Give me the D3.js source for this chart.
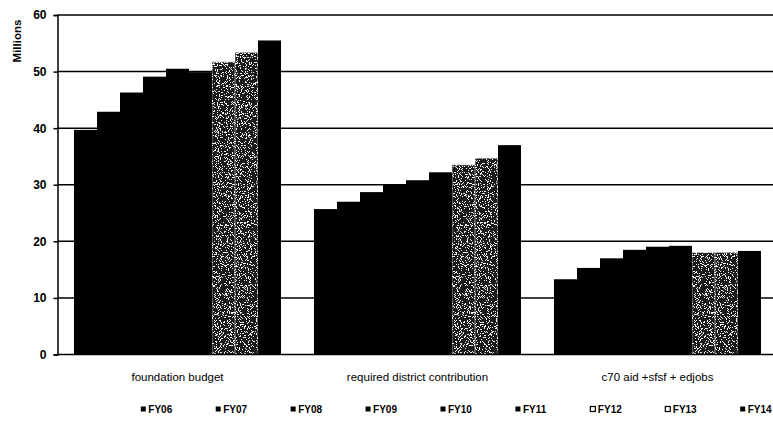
<!DOCTYPE html>
<html>
<head>
<meta charset="utf-8">
<script src="https://cdn.jsdelivr.net/npm/d3@7/dist/d3.min.js"></script>
<style>
  html, body { margin: 0; padding: 0; background: #fff; }
  svg { display: block; font-family: "Liberation Sans", Arial, sans-serif; }
</style>
</head>
<body>
<svg id="chart" width="773" height="421"></svg>
<script>
// Budget components by fiscal year (millions of dollars)
const categories = ["foundation budget", "required district contribution", "c70 aid +sfsf + edjobs"];
const series = ["FY06", "FY07", "FY08", "FY09", "FY10", "FY11", "FY12", "FY13", "FY14"];
const foundationBudget = [39.7, 42.9, 46.3, 49.1, 50.5, 49.9, 51.7, 53.4, 55.5];
const requiredContribution = [25.7, 27.0, 28.7, 30.0, 30.8, 32.2, 33.5, 34.7, 37.0];
const stateAid = [13.3, 15.3, 17.0, 18.5, 19.05, 19.2, 18.0, 18.05, 18.3];
const yTicks = [0, 10, 20, 30, 40, 50, 60];
const yLabel = "Millions";
// FY12 and FY13 are drawn with a speckled texture
const texturedSeries = ["FY12", "FY13"];

const valuesByCategory = [foundationBudget, requiredContribution, stateAid];
const rows = categories.map((c, i) => ({
  category: c,
  values: series.map((s, j) => ({ series: s, value: valuesByCategory[i][j] }))
}));

const svg = d3.select("#chart");

// Speckle filter: black fill with scattered white grains
const defs = svg.append("defs");
const f = defs.append("filter").attr("id", "speckle")
  .attr("x", 0).attr("y", 0).attr("width", 1).attr("height", 1);
f.append("feTurbulence").attr("type", "fractalNoise").attr("baseFrequency", 0.9)
  .attr("numOctaves", 2).attr("seed", 7).attr("result", "noise");
f.append("feColorMatrix").attr("in", "noise").attr("type", "matrix")
  .attr("values", "0 0 0 0 1  0 0 0 0 1  0 0 0 0 1  1.6 0 0 0 -0.35").attr("result", "grain");
f.append("feComponentTransfer").attr("in", "grain").attr("result", "dots")
  .append("feFuncA").attr("type", "discrete").attr("tableValues", "0 0 0 0.85 1");
f.append("feComposite").attr("in", "dots").attr("in2", "SourceGraphic")
  .attr("operator", "in").attr("result", "clipped");
const merge = f.append("feMerge");
merge.append("feMergeNode").attr("in", "SourceGraphic");
merge.append("feMergeNode").attr("in", "clipped");

const margin = { left: 57.5, right: 777.5, top: 15, bottom: 354.5 };

const y = d3.scaleLinear().domain([0, 60]).range([margin.bottom, margin.top]);
const x0 = d3.scaleBand().domain(categories).range([margin.left, margin.right])
  .paddingInner(0.1375).paddingOuter(0.06875);
const x1 = d3.scaleBand().domain(series).range([0, x0.bandwidth()]);

// Horizontal gridlines
svg.append("g")
  .selectAll("line")
  .data(yTicks.filter(t => t > 0))
  .join("line")
  .attr("x1", margin.left).attr("x2", 773)
  .attr("y1", d => y(d)).attr("y2", d => y(d))
  .attr("stroke", "#000").attr("stroke-width", 1.5);

// Bars
const groups = svg.append("g")
  .selectAll("g")
  .data(rows)
  .join("g")
  .attr("transform", d => `translate(${x0(d.category)},0)`);

groups.selectAll("rect")
  .data(d => d.values)
  .join("rect")
  .attr("x", d => x1(d.series))
  .attr("width", x1.bandwidth())
  .attr("y", d => y(d.value))
  .attr("height", d => y(0) - y(d.value))
  .attr("fill", d => texturedSeries.includes(d.series) ? "#1a1a1a" : "#000")
  .attr("stroke", d => texturedSeries.includes(d.series) ? "#bbb" : "none")
  .attr("stroke-width", 0.8)
  .attr("filter", d => texturedSeries.includes(d.series) ? "url(#speckle)" : null);

// Baseline
svg.append("line")
  .attr("x1", margin.left).attr("x2", 773)
  .attr("y1", y(0)).attr("y2", y(0))
  .attr("stroke", "#000").attr("stroke-width", 1.5);

// Y axis
const yAxis = svg.append("g")
  .attr("transform", `translate(${margin.left},0)`)
  .call(d3.axisLeft(y).tickValues(yTicks).tickSize(4).tickPadding(7).tickFormat(d3.format("d")));
yAxis.select(".domain").attr("stroke", "#000").attr("stroke-width", 1.5);
yAxis.selectAll(".tick line").attr("stroke", "#000").attr("stroke-width", 1.5);
yAxis.selectAll("text")
  .attr("fill", "#000").attr("font-size", 12).attr("font-weight", "bold")
  .style("font-family", "'Liberation Sans', Arial, sans-serif");

svg.append("text")
  .attr("transform", `translate(21,41) rotate(-90)`)
  .attr("text-anchor", "middle")
  .attr("font-size", 11.5).attr("font-weight", "bold")
  .text(yLabel);

// Category labels
svg.append("g")
  .selectAll("text")
  .data(categories)
  .join("text")
  .attr("x", d => x0(d) + x0.bandwidth() / 2)
  .attr("y", 380.5)
  .attr("text-anchor", "middle")
  .attr("font-size", 11.5)
  .text(d => d);

// Legend
const lx = d3.scalePoint().domain(series).range([143.3, 742.7]);
const legend = svg.append("g")
  .selectAll("g")
  .data(series)
  .join("g")
  .attr("transform", d => `translate(${lx(d)},409)`);
legend.append("rect")
  .attr("x", -2.5).attr("y", -2.5).attr("width", 5).attr("height", 5)
  .attr("fill", d => texturedSeries.includes(d) ? "#fff" : "#000")
  .attr("stroke", "#000").attr("stroke-width", d => texturedSeries.includes(d) ? 1.2 : 0);
legend.append("text")
  .attr("x", 5).attr("y", 4)
  .attr("font-size", 10)
  .attr("font-weight", "bold")
  .text(d => d);
</script>
</body>
</html>
